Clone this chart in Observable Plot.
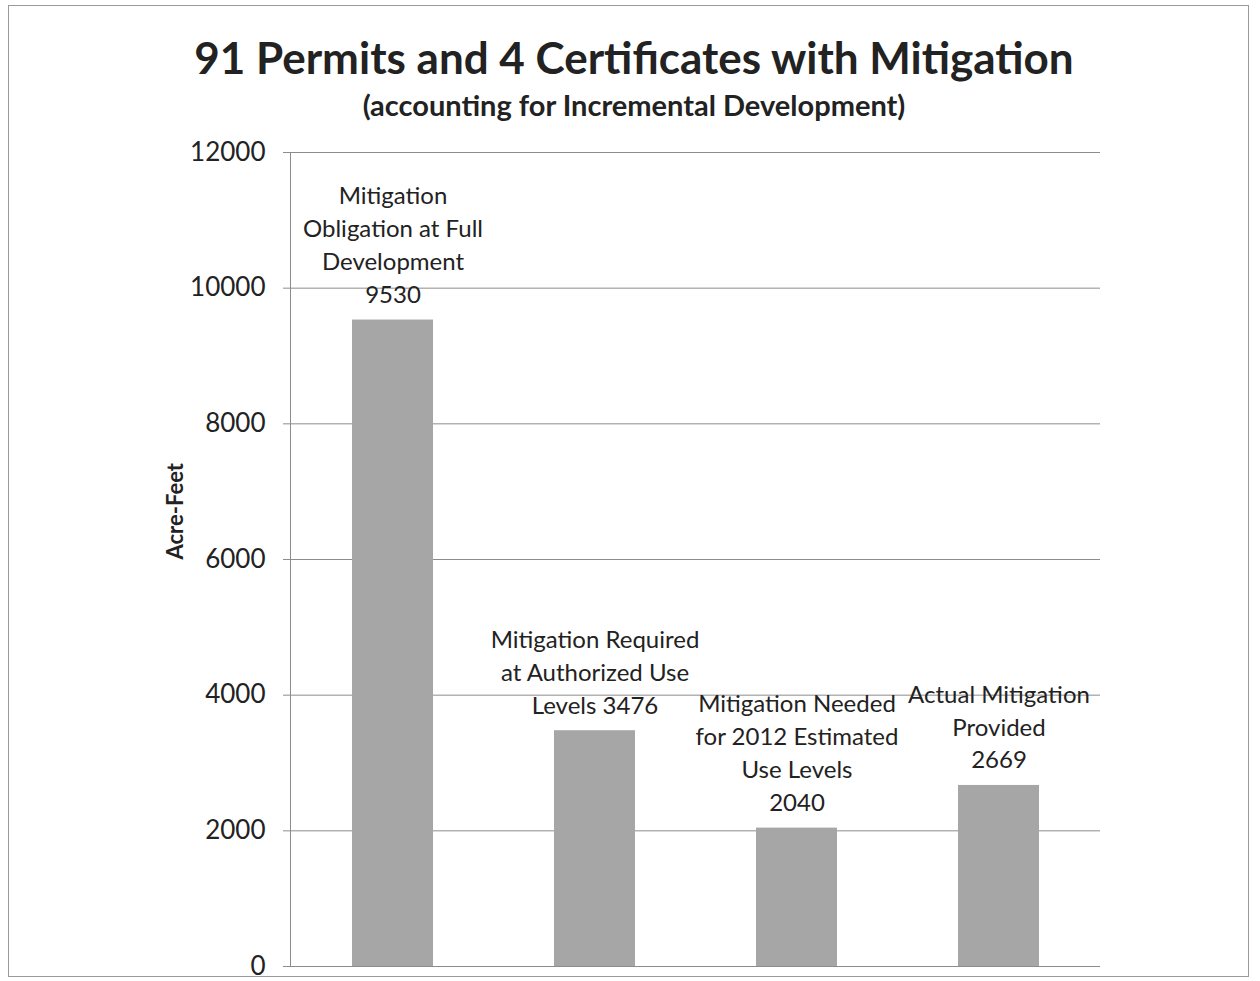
<!DOCTYPE html>
<html><head><meta charset="utf-8">
<script src="https://cdn.jsdelivr.net/npm/d3@7"></script>
<script src="https://cdn.jsdelivr.net/npm/@observablehq/plot@0.6"></script>
<style>
body{margin:0;background:#fff;}
#wrap{position:relative;width:1260px;height:981px;overflow:hidden;background:#fff;}
#frame{position:absolute;left:8px;top:5px;width:1241px;height:972px;border:1px solid #9a9a9a;box-sizing:border-box;}
#title{position:absolute;left:4px;width:1260px;top:31px;text-align:center;font-family:Lato,sans-serif;font-weight:bold;font-size:44px;line-height:52px;color:#222;}
#subtitle{position:absolute;left:4px;width:1260px;top:87px;text-align:center;font-family:Lato,sans-serif;font-weight:bold;font-size:29px;line-height:36px;color:#222;}
#chart{position:absolute;left:0;top:0;}
</style>
</head><body>
<div id="wrap">
<div id="frame"></div>
<div id="chart"></div>
<div id="title">91 Permits and 4 Certificates with Mitigation</div>
<div id="subtitle">(accounting for Incremental Development)</div>
</div>
<script>
const categories = ["Full Development", "Authorized Use", "2012 Estimated Use", "Actual Provided"];
const values = [9530, 3476, 2040, 2669];
const labels = [
  "Mitigation\nObligation at Full\nDevelopment\n9530",
  "Mitigation Required\nat Authorized Use\nLevels 3476",
  "Mitigation Needed\nfor 2012 Estimated\nUse Levels\n2040",
  "Actual Mitigation\nProvided\n2669"
];
const yTicks = [0, 2000, 4000, 6000, 8000, 10000, 12000];
const yLabel = "Acre-Feet";

const data = categories.map((c, i) => ({cat: c, value: values[i], label: labels[i]}));

const chart = Plot.plot({
  width: 1260,
  height: 981,
  marginTop: 152,
  marginBottom: 15,
  marginLeft: 290,
  marginRight: 160,
  style: {fontFamily: "Lato, sans-serif", fontSize: "24px", color: "#222", background: "transparent"},
  x: {domain: categories, paddingInner: 0.6, paddingOuter: 0.3, align: 0.5, axis: null},
  y: {domain: [0, 12000], ticks: yTicks, label: null},
  marks: [
    Plot.gridY(yTicks, {stroke: "#8c8c8c", strokeOpacity: 1, strokeWidth: 1}),
    Plot.frame({anchor: "left", stroke: "#8c8c8c"}),
    Plot.axisY(yTicks, {tickSize: 7, tickPadding: 18, tickFormat: d => String(d), stroke: "#8c8c8c", fontSize: 26, fill: "#222", label: null}),
    Plot.barY(data, {x: "cat", y: "value", fill: "#a6a6a6"}),
    Plot.text(data, {x: "cat", y: "value", text: "label", lineAnchor: "bottom", dy: -17, fontSize: 24, lineHeight: 1.37, fill: "#222"}),
    Plot.text([yLabel], {frameAnchor: "left", rotate: -90, dx: -115, fontSize: 22, fontWeight: "bold", fill: "#222"})
  ]
});
document.getElementById("chart").appendChild(chart);
</script>
</body></html>
